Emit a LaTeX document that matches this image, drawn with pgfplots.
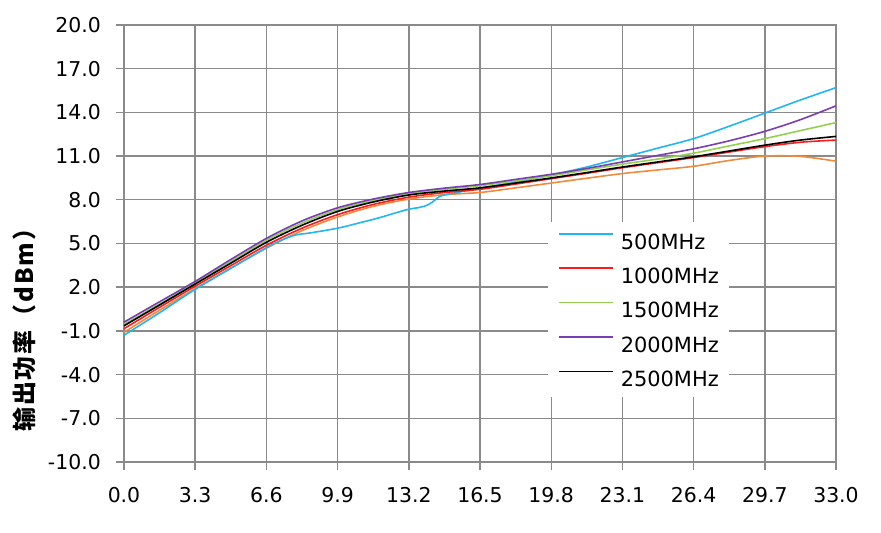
\documentclass[border=0pt]{standalone}
\usepackage{fontspec}
\setmainfont{DejaVu Sans}
\newfontfamily\cjk[LetterSpace=8]{Noto Sans CJK SC}
\usepackage{pgfplots}
\pgfplotsset{compat=1.18}
\definecolor{cblue}{HTML}{21B6F0}
\definecolor{cred}{HTML}{FF1A1A}
\definecolor{cgreen}{HTML}{94D050}
\definecolor{cpurple}{HTML}{7A3EB4}
\definecolor{corange}{HTML}{F08A3C}
\definecolor{cgrid}{HTML}{8A8A8A}
\begin{document}
\begin{tikzpicture}
\useasboundingbox (-124bp,-71bp) rectangle (757bp,462bp);
\begin{axis}[
  at={(0,0)}, anchor=south west,
  scale only axis, width=712bp, height=437bp,
  xmin=0, xmax=33, ymin=-10, ymax=20,
  xtick={0,3.3,6.6,9.9,13.2,16.5,19.8,23.1,26.4,29.7,33},
  xticklabels={0.0,3.3,6.6,9.9,13.2,16.5,19.8,23.1,26.4,29.7,33.0},
  ytick={-10,-7,-4,-1,2,5,8,11,14,17,20},
  yticklabels={-10.0,-7.0,-4.0,-1.0,2.0,5.0,8.0,11.0,14.0,17.0,20.0},
  xtick pos=left, ytick pos=left,
  tick align=outside, major tick length=8bp,
  grid=major,
  major grid style={cgrid, line width=1.4bp},
  axis line style={cgrid, line width=1.4bp},
  tick style={cgrid, line width=1.4bp},
  ticklabel style={font=\fontsize{20.5}{24}\selectfont, text=black},
  yticklabel style={anchor=east, inner sep=0pt, xshift=-15bp},
  xticklabel style={anchor=north, inner sep=0pt, yshift=-17bp},
  ylabel={\cjk\bfseries 输出功率（dBm）},
  ylabel style={at={(axis description cs:-0.1404,0.315)}, anchor=center, font=\fontsize{24}{28}\selectfont},
  legend style={at={(axis cs:19.65,6.48)}, anchor=north west, draw=none, fill=white,
    inner xsep=10bp, inner ysep=11bp, row sep=18.4bp,
    nodes={inner sep=0pt, text height=15.3bp, text depth=0pt},
    font=\fontsize{21}{25}\selectfont},
  legend cell align=left,
  legend image code/.code={\draw[#1, line width=1.6bp] (0bp,7.5bp) -- (54bp,7.5bp); \path (0bp,0bp) (61bp,0bp);},
  every axis plot/.append style={line width=1.6bp, smooth, tension=0.5, mark=none},
]
\addplot[corange, forget plot] coordinates {
(0,-1.10) (1.65,0.42) (3.3,1.90) (4.95,3.30) (6.6,4.68) (8.25,5.88) (9.9,6.82) (11.55,7.55) (13.2,8.05) (14.85,8.35) (16.5,8.50) (18.15,8.82) (19.8,9.15) (21.45,9.48) (23.1,9.80) (24.75,10.05) (26.4,10.30) (28.05,10.70) (29.7,11.00) (31.35,10.98) (33,10.65)};
\addplot[cblue] coordinates {
(0,-1.30) (1.65,0.25) (3.3,1.85) (4.95,3.30) (6.6,4.72) (7.4,5.30) (8.0,5.60) (8.6,5.72) (9.9,6.05) (11.0,6.45) (11.86,6.78) (13.1,7.32) (13.6,7.45) (14.0,7.60) (14.3,7.85) (14.6,8.20) (15.0,8.38) (16.5,8.80) (18.15,9.22) (19.8,9.70) (21.45,10.25) (23.1,10.90) (24.75,11.55) (26.4,12.20) (28.05,13.05) (29.7,13.95) (31.35,14.85) (33,15.70)};
\addlegendentry{500MHz}
\addplot[cred] coordinates {
(0,-0.85) (1.65,0.62) (3.3,2.07) (4.95,3.48) (6.6,4.88) (8.25,6.05) (9.9,6.98) (11.55,7.68) (13.2,8.18) (14.85,8.50) (16.5,8.72) (18.15,9.08) (19.8,9.45) (21.45,9.82) (23.1,10.20) (24.75,10.55) (26.4,10.90) (28.05,11.28) (29.7,11.65) (31.35,11.95) (33,12.10)};
\addlegendentry{1000MHz}
\addplot[cgreen] coordinates {
(0,-0.55) (1.65,0.85) (3.3,2.30) (4.95,3.77) (6.6,5.22) (8.25,6.40) (9.9,7.33) (11.55,7.95) (13.2,8.42) (14.85,8.72) (16.5,8.97) (18.15,9.30) (19.8,9.65) (21.45,10.05) (23.1,10.45) (24.75,10.80) (26.4,11.20) (28.05,11.70) (29.7,12.20) (31.35,12.75) (33,13.30)};
\addlegendentry{1500MHz}
\addplot[cpurple] coordinates {
(0,-0.40) (1.65,1.00) (3.3,2.40) (4.95,3.90) (6.6,5.35) (8.25,6.55) (9.9,7.45) (11.55,8.05) (13.2,8.50) (14.85,8.80) (16.5,9.05) (18.15,9.40) (19.8,9.75) (21.45,10.15) (23.1,10.60) (24.75,11.05) (26.4,11.50) (28.05,12.05) (29.7,12.70) (31.35,13.50) (33,14.45)};
\addlegendentry{2000MHz}
\addplot[black] coordinates {
(0,-0.65) (1.65,0.78) (3.3,2.22) (4.95,3.65) (6.6,5.08) (8.25,6.25) (9.9,7.20) (11.55,7.85) (13.2,8.33) (14.85,8.60) (16.5,8.82) (18.15,9.15) (19.8,9.50) (21.45,9.87) (23.1,10.25) (24.75,10.60) (26.4,10.95) (28.05,11.35) (29.7,11.75) (31.35,12.10) (33,12.35)};
\addlegendentry{2500MHz}
\end{axis}
\end{tikzpicture}
\end{document}
